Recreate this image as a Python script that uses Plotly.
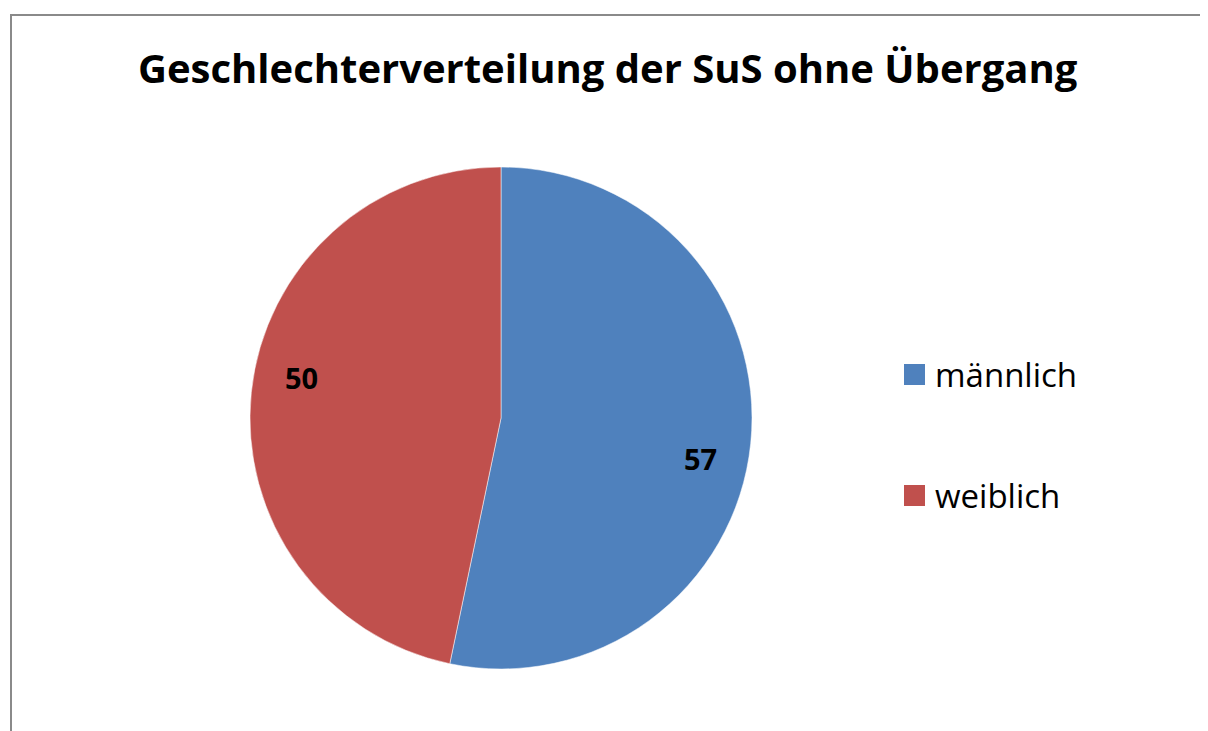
import math
import plotly.graph_objects as go

# Data
categories = ["männlich", "weiblich"]
values = [57, 50]
colors = ["#4F81BD", "#C0504D"]
title_text = "Geschlechterverteilung der SuS ohne Übergang"

OFF = 8                 # page body margin in the browser
W, H = 1208, 731
FONT = "Open Sans"


def fx(sx):  # screen x -> paper x
    return (sx - OFF) / W


def fy(sy):  # screen y -> paper y
    return 1 - (sy - OFF) / H


# pie geometry (screen pixels)
cx, cy, r = 501, 418, 251
label_r = 0.81
label_turn = math.radians(5.6)  # labels sit slightly clockwise of the mid-angle

fig = go.Figure()
fig.add_trace(go.Pie(
    labels=categories,
    values=values,
    marker=dict(colors=colors, line=dict(color="rgba(255,255,255,0.5)", width=1)),
    sort=False,
    direction="clockwise",
    rotation=0,
    textinfo="none",
    showlegend=False,
    hoverinfo="label+value",
    domain=dict(x=[fx(cx - r), fx(cx + r)], y=[fy(cy + r), fy(cy - r)]),
))

shapes = []
annotations = []

# outer border
shapes.append(dict(type="rect", xref="paper", yref="paper",
                   x0=fx(11), x1=fx(1204), y0=-0.05, y1=fy(15),
                   line=dict(color="#8a8a8a", width=2), fillcolor="rgba(0,0,0,0)"))

# title
annotations.append(dict(text="<b>" + title_text + "</b>", xref="paper", yref="paper",
                        x=fx(608), y=fy(67), xanchor="center", yanchor="middle",
                        showarrow=False, font=dict(family=FONT, size=40, color="black")))

# data labels near the slice mid-angles (clockwise from 12 o'clock)
total = sum(values)
cum = 0.0
for v in values:
    mid = (cum + v / 2) / total * 2 * math.pi + label_turn
    cum += v
    px = cx + label_r * r * math.sin(mid)
    py = cy - label_r * r * math.cos(mid)
    annotations.append(dict(text="<b>%d</b>" % v, xref="paper", yref="paper",
                            x=fx(px), y=fy(py), xanchor="center", yanchor="middle",
                            showarrow=False, font=dict(family=FONT, size=29, color="black")))

# manual legend
legend_y = [374.5, 495.5]
for cat, col, ly in zip(categories, colors, legend_y):
    shapes.append(dict(type="rect", xref="paper", yref="paper",
                       x0=fx(904), x1=fx(925),
                       y0=fy(ly + 10.5), y1=fy(ly - 10.5),
                       line=dict(width=0), fillcolor=col))
    annotations.append(dict(text=cat, xref="paper", yref="paper",
                            x=fx(933), y=fy(ly), xanchor="left", yanchor="middle",
                            showarrow=False, font=dict(family=FONT, size=33, color="black")))

fig.update_layout(
    width=W, height=H,
    margin=dict(l=0, r=0, t=0, b=0),
    paper_bgcolor="white",
    plot_bgcolor="white",
    shapes=shapes,
    annotations=annotations,
)

fig.write_html("out.html")
